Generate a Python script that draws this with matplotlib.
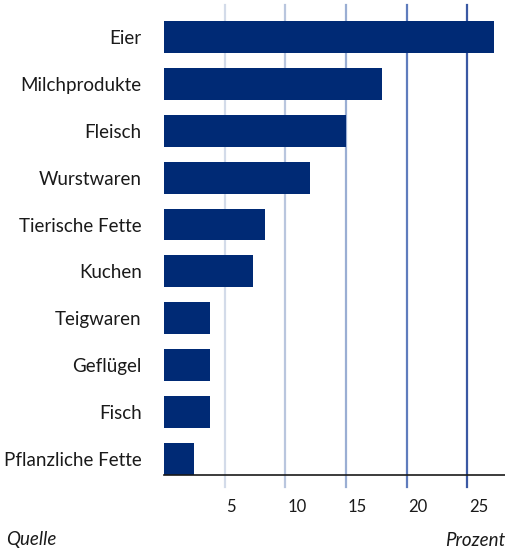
import matplotlib.pyplot as plt

categories = ['Eier', 'Milchprodukte', 'Fleisch', 'Wurstwaren', 'Tierische Fette',
              'Kuchen', 'Teigwaren', 'Geflügel', 'Fisch', 'Pflanzliche Fette']
values = [27.2, 18.0, 15.0, 12.0, 8.3, 7.3, 3.8, 3.8, 3.8, 2.5]
ticks = [5, 10, 15, 20, 25]
grid_colors = ['#d3dbe9', '#b9c6de', '#9aaed3', '#5f7cbd', '#3a58a3']

plt.rcParams['font.family'] = ['Lato', 'DejaVu Sans']

fig = plt.figure(figsize=(5.05, 5.52), dpi=100)
ax = fig.add_axes([164 / 505, 77 / 552, 341 / 505, 470 / 552])

n = len(categories)
ypos = [n - 1 - i for i in range(n)]

# grid lines, running a bit below the axis
for t, c in zip(ticks, grid_colors):
    ax.axvline(t, ymin=-0.026, ymax=1, color=c, lw=1.6, clip_on=False, zorder=1)

ax.barh(ypos, values, height=0.68, color='#002a75', zorder=2)

ax.set_xlim(0, 28.1)
ax.set_ylim(-0.34, n - 1 + 0.68)

ax.set_yticks(ypos)
ax.set_yticklabels(categories, fontsize=13.5, color='#1a1a1a')
ax.tick_params(axis='y', length=0, pad=16)

ax.set_xticks(ticks)
ax.set_xticklabels([])
ax.tick_params(axis='x', length=0)
for t in ticks:
    ax.text(t + 0.15, -1.02, str(t), ha='left', va='center', fontsize=12,
            color='#1a1a1a', transform=ax.transData)

for s in ['top', 'right', 'left']:
    ax.spines[s].set_visible(False)
ax.spines['bottom'].set_color('#1a1a1a')
ax.spines['bottom'].set_linewidth(1.2)
ax.spines['bottom'].set_zorder(3)

fig.text(6 / 505, 1 - 540 / 552, 'Quelle', ha='left', va='center',
         fontsize=13.5, style='italic', color='#1a1a1a')
fig.text(1.0, 1 - 540 / 552, 'Prozent', ha='right', va='center',
         fontsize=13.5, style='italic', color='#1a1a1a')

fig.savefig('out.png', dpi=100)
